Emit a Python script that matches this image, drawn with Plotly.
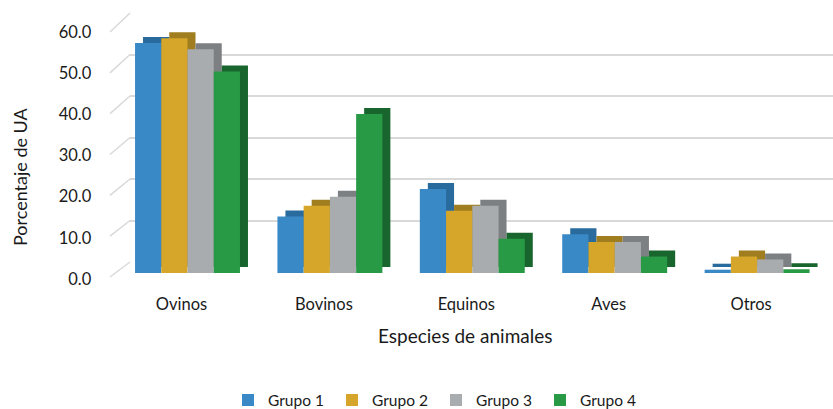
import plotly.graph_objects as go

W, H = 833, 409

categories = ["Ovinos", "Bovinos", "Equinos", "Aves", "Otros"]
series_names = ["Grupo 1", "Grupo 2", "Grupo 3", "Grupo 4"]
grupo1 = [55.8, 13.7, 20.4, 9.4, 0.8]
grupo2 = [57.0, 16.3, 15.1, 7.5, 4.0]
grupo3 = [54.3, 18.5, 16.3, 7.5, 3.3]
grupo4 = [48.9, 38.6, 8.3, 4.0, 0.9]
series_values = [grupo1, grupo2, grupo3, grupo4]
y_ticks = [0, 10, 20, 30, 40, 50, 60]
y_ticktext = ["0.0", "10.0", "20.0", "30.0", "40.0", "50.0", "60.0"]

front_colors = ["#3A89C7", "#D5A62A", "#A9ACAE", "#289A45"]
side_colors = ["#2A6B9E", "#A07D1F", "#7D8083", "#18652D"]

FONT = "Lato"
TXT = "#1a1a1a"

def px_x(x):
    return min(max(x / W, 0.0), 1.0)

def px_y(y):
    return min(max(1 - y / H, 0.0), 1.0)

# pixel geometry
step = 142.4
x_rng = [-0.5, 4.45]
front_x = (116.3, 116.3 + (x_rng[1] - x_rng[0]) * step)
front_y0, front_y60 = 273.0, 25.8
dx, dy = 8.0, 6.0
back_x = (130.0, 833.0)
back_y0, back_y60 = 262.0, 13.0
wall_front_x, wall_front_y0, wall_front_y60 = 110.0, 277.0, 32.0

fig = go.Figure()

# back wall (gridlines) subplot
fig.add_trace(go.Scatter(x=[0], y=[0], mode="markers", marker=dict(opacity=0),
                         showlegend=False, hoverinfo="skip", xaxis="x", yaxis="y"))

# side/top faces (shadow bars)
for name, vals, c in zip(series_names, series_values, side_colors):
    fig.add_trace(go.Bar(x=categories, y=vals, name=name, marker_color=c,
                         marker_line_width=0, showlegend=False, hoverinfo="skip",
                         xaxis="x2", yaxis="y2"))

# front faces
for name, vals, c in zip(series_names, series_values, front_colors):
    fig.add_trace(go.Bar(x=categories, y=vals, name=name, marker_color=c,
                         marker_line_width=0, xaxis="x3", yaxis="y3"))

# left wall diagonals
shapes = []
for v in y_ticks:
    yf = wall_front_y0 + (wall_front_y60 - wall_front_y0) * v / 60
    yb = back_y0 + (back_y60 - back_y0) * v / 60
    shapes.append(dict(type="line", xref="paper", yref="paper",
                       x0=px_x(wall_front_x), y0=px_y(yf),
                       x1=px_x(back_x[0]), y1=px_y(yb),
                       line=dict(color="#D9D9D9", width=1.5), layer="below"))

fig.update_layout(
    width=W, height=H,
    margin=dict(l=0, r=0, t=0, b=0, autoexpand=False),
    paper_bgcolor="white", plot_bgcolor="rgba(0,0,0,0)",
    barmode="group", bargap=0.263, bargroupgap=0,
    font=dict(family=FONT, size=16, color=TXT),
    shapes=shapes,
    xaxis=dict(domain=[px_x(back_x[0]), px_x(back_x[1])], range=[0, 1],
               showgrid=False, showticklabels=False, zeroline=False, anchor="y"),
    yaxis=dict(domain=[px_y(back_y0), px_y(back_y60)], range=[0, 60],
               tickvals=y_ticks, showgrid=True, gridcolor="#D9D9D9", gridwidth=1.5,
               showticklabels=False, zeroline=False, anchor="x"),
    xaxis2=dict(domain=[px_x(front_x[0] + dx), px_x(front_x[1] + dx)], range=x_rng,
                showgrid=False, showticklabels=False, zeroline=False, anchor="y2"),
    yaxis2=dict(domain=[px_y(front_y0 - dy), px_y(front_y60 - dy)], range=[0, 60],
                showgrid=False, showticklabels=False, zeroline=False, anchor="x2"),
    xaxis3=dict(domain=[px_x(front_x[0]), px_x(front_x[1])], range=x_rng,
                showgrid=False, zeroline=False, anchor="y3",
                ticklabelshift=-6, ticklabelstandoff=19,
                tickfont=dict(size=16.5, family=FONT, color=TXT)),
    yaxis3=dict(domain=[px_y(front_y0), px_y(front_y60)], range=[0, 60],
                tickvals=y_ticks, ticktext=y_ticktext, showgrid=False, zeroline=False,
                anchor="x3", ticklabelshift=6, ticklabelstandoff=24,
                tickfont=dict(size=16.5, family=FONT, color=TXT)),
    legend=dict(orientation="h", x=px_x(436), xanchor="center", y=-8.5 / H,
                yanchor="bottom", font=dict(size=15.5, family=FONT, color=TXT),
                entrywidth=59, itemwidth=30,
                itemclick=False, bgcolor="rgba(0,0,0,0)"),
    annotations=[
        dict(text="Especies de animales", xref="paper", yref="paper",
             x=px_x(465), y=px_y(335), xanchor="center", yanchor="middle",
             showarrow=False, font=dict(size=19, family=FONT, color=TXT)),
        dict(text="Porcentaje de UA", xref="paper", yref="paper",
             x=px_x(20), y=px_y(177), xanchor="center", yanchor="middle",
             showarrow=False, textangle=-90,
             font=dict(size=18, family=FONT, color=TXT)),
    ],
)

fig.write_html("out.html")
